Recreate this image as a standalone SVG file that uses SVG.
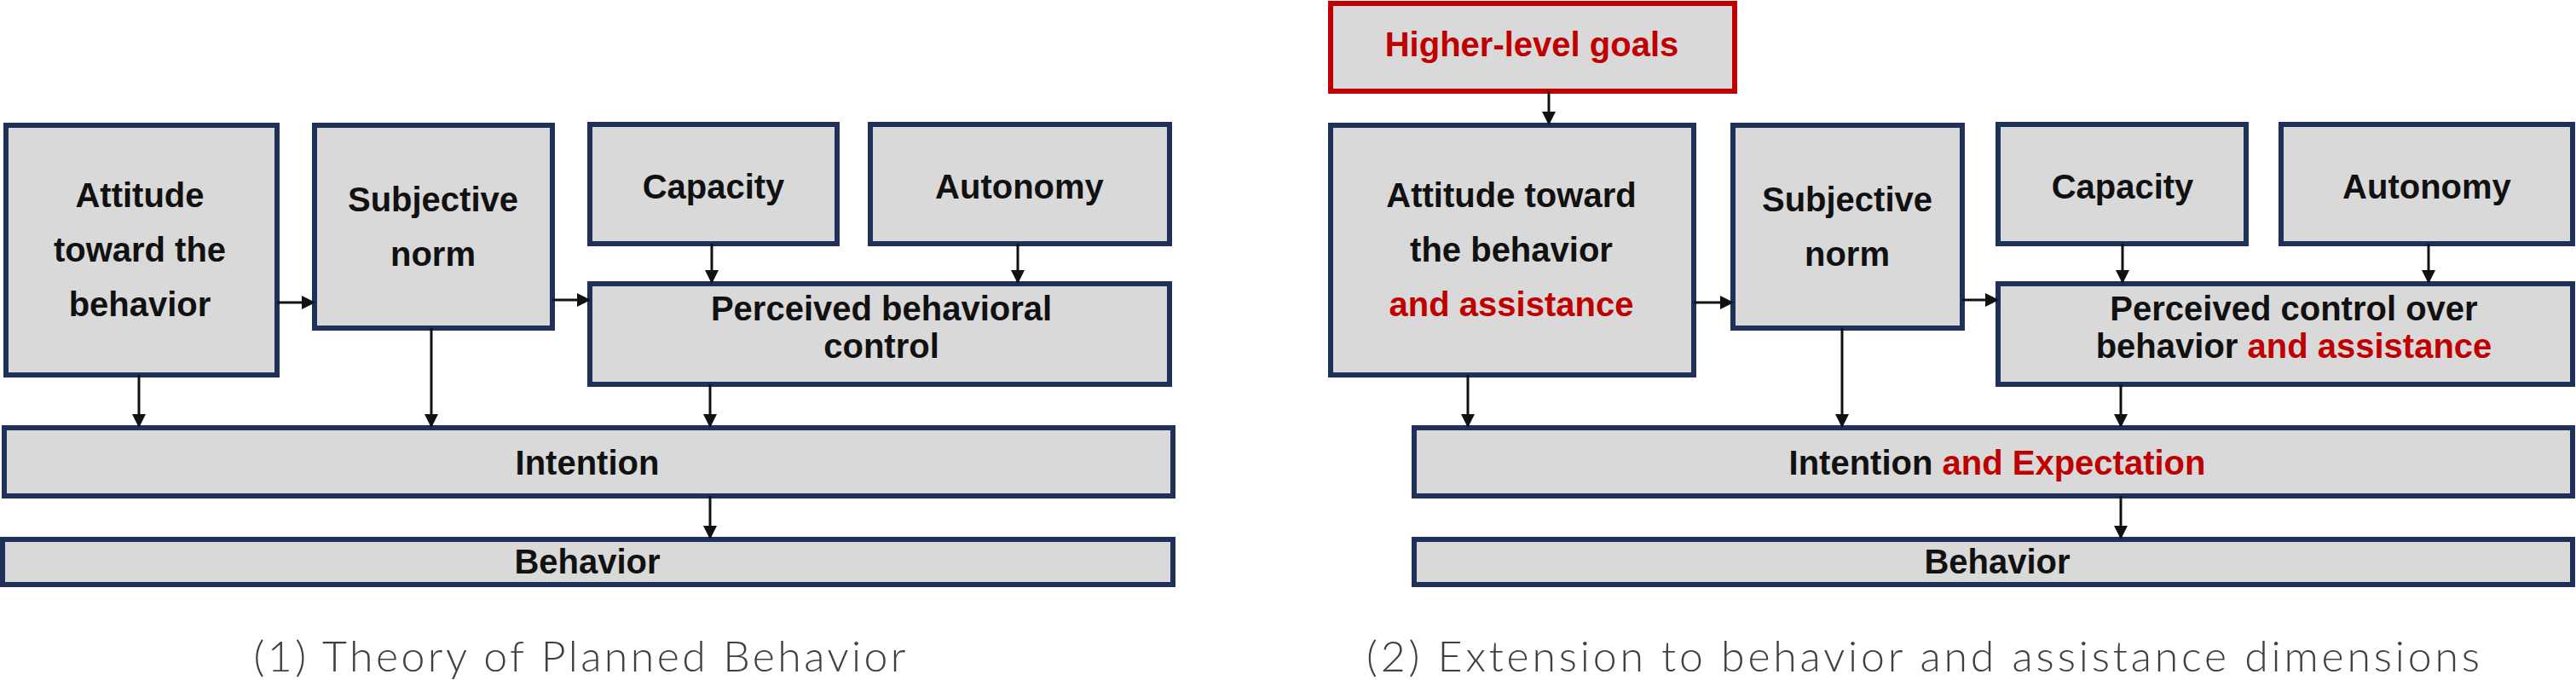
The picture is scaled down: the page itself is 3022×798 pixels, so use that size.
<svg xmlns="http://www.w3.org/2000/svg" width="3022" height="798" viewBox="0 0 3022 798">
<style>
.b{fill:#d9d9d9;stroke:#1f3158;stroke-width:6}
.r{fill:#d9d9d9;stroke:#c00000;stroke-width:6}
text{font-family:"Liberation Sans",Arial,sans-serif;font-weight:bold;font-size:40px;fill:#111;text-anchor:middle}
.red{fill:#c00000}
.cap{font-family:Lato,"Noto Sans",sans-serif;font-weight:300;font-size:50px;fill:#404040}
.c line{stroke:#111;stroke-width:3;marker-end:url(#a)}
</style>
<defs><marker id="a" markerWidth="8" markerHeight="8" refX="7" refY="4" orient="auto" markerUnits="userSpaceOnUse" viewBox="0 0 8 8"><path d="M0,0L8,4L0,8z" fill="#111"/></marker>
<marker id="a2" markerWidth="16" markerHeight="16" refX="14" refY="8" orient="auto" markerUnits="userSpaceOnUse"><path d="M0,0L16,8L0,16z" fill="#111"/></marker></defs>
<style>.c line{marker-end:url(#a2)}</style>
<g id="att1"><rect class="b" x="7" y="147" width="318" height="293"/><text x="164" y="243">Attitude</text><text x="164" y="307">toward the</text><text x="164" y="371">behavior</text></g>
<g id="sn1"><rect class="b" x="369" y="147" width="279" height="238"/><text x="508" y="248">Subjective</text><text x="508" y="312">norm</text></g>
<g id="cap1"><rect class="b" x="692" y="146" width="290" height="140"/><text x="837" y="233">Capacity</text></g>
<g id="aut1"><rect class="b" x="1021" y="146" width="351" height="140"/><text x="1196" y="233">Autonomy</text></g>
<g id="pbc1"><rect class="b" x="692" y="333" width="680" height="118"/><text x="1034" y="376">Perceived behavioral</text><text x="1034" y="420">control</text></g>
<g id="int1"><rect class="b" x="5" y="502" width="1371" height="80"/><text x="689" y="557">Intention</text></g>
<g id="beh1"><rect class="b" x="3" y="633" width="1373" height="53"/><text x="689" y="673">Behavior</text></g>
<text class="cap" x="680" y="788" textLength="765">(1) Theory of Planned Behavior</text>

<g id="hlg"><rect class="r" x="1561" y="4" width="474" height="103"/><text class="red" x="1797" y="66">Higher-level goals</text></g>
<g id="att2"><rect class="b" x="1561" y="147" width="426" height="293"/><text x="1773" y="243">Attitude toward</text><text x="1773" y="307">the behavior</text><text class="red" x="1773" y="371">and assistance</text></g>
<g id="sn2"><rect class="b" x="2033" y="147" width="269" height="238"/><text x="2167" y="248">Subjective</text><text x="2167" y="312">norm</text></g>
<g id="cap2"><rect class="b" x="2344" y="146" width="291" height="140"/><text x="2490" y="233">Capacity</text></g>
<g id="aut2"><rect class="b" x="2676" y="146" width="342" height="140"/><text x="2847" y="233">Autonomy</text></g>
<g id="pco"><rect class="b" x="2344" y="333" width="674" height="118"/><text x="2691" y="376">Perceived control over</text><text x="2691" y="420">behavior <tspan class="red">and assistance</tspan></text></g>
<g id="int2"><rect class="b" x="1659" y="502" width="1359" height="80"/><text x="2343" y="557">Intention <tspan class="red">and Expectation</tspan></text></g>
<g id="beh2"><rect class="b" x="1659" y="633" width="1359" height="53"/><text x="2343" y="673">Behavior</text></g>
<text class="cap" x="2256" y="788" textLength="1306">(2) Extension to behavior and assistance dimensions</text>

<g class="c" id="connectors">
<line x1="325" y1="355" x2="368" y2="355"/><line x1="648" y1="352" x2="691" y2="352"/>
<line x1="835" y1="286" x2="835" y2="331"/><line x1="1194" y1="286" x2="1194" y2="331"/>
<line x1="163" y1="440" x2="163" y2="500"/><line x1="506" y1="385" x2="506" y2="500"/><line x1="833" y1="451" x2="833" y2="500"/>
<line x1="833" y1="582" x2="833" y2="631"/>
<line x1="1817" y1="107" x2="1817" y2="145"/>
<line x1="1987" y1="355" x2="2032" y2="355"/><line x1="2302" y1="352" x2="2343" y2="352"/>
<line x1="2490" y1="286" x2="2490" y2="331"/><line x1="2849" y1="286" x2="2849" y2="331"/>
<line x1="1722" y1="440" x2="1722" y2="500"/><line x1="2161" y1="385" x2="2161" y2="500"/><line x1="2488" y1="451" x2="2488" y2="500"/>
<line x1="2488" y1="582" x2="2488" y2="631"/>
</g>
</svg>
